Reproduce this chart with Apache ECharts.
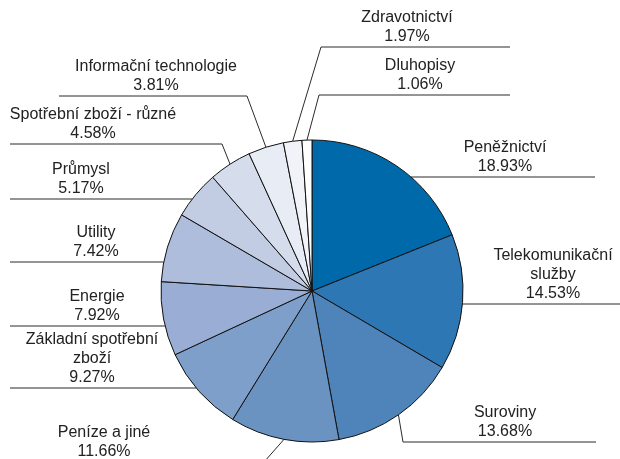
<!DOCTYPE html>
<html>
<head>
<meta charset="utf-8">
<script src="https://cdn.jsdelivr.net/npm/echarts@6/dist/echarts.min.js"></script>
<style>
  html, body { margin: 0; padding: 0; background: #fff; }
  #chart { width: 620px; height: 459px; }
</style>
</head>
<body>
<div id="chart"></div>
<script>
// sektory portfolia (po směru hodinových ručiček od 12 h)
var sectors = ['Peněžnictví', 'Telekomunikační\nslužby', 'Suroviny', 'Peníze a jiné',
    'Základní spotřební\nzboží', 'Energie', 'Utility', 'Průmysl',
    'Spotřební zboží - různé', 'Informační technologie', 'Zdravotnictví', 'Dluhopisy'];
var shares = [18.93, 14.53, 13.68, 11.66, 9.27, 7.92, 7.42, 5.17, 4.58, 3.81, 1.97, 1.06];

var colors = ['#0069aa', '#2d78b4', '#4e84ba', '#6a93c2', '#7f9fcb', '#9aadd4',
    '#aebddc', '#c2cde4', '#d5dcec', '#e8ecf5', '#f1f3f9', '#ffffff'];

// umístění popisků: střed textu (tx), výška podtržení (ly), zlom čáry (ex), konec čáry (end)
var labelSpots = [
    {tx: 505, ly: 177, end: 595},
    {tx: 553, ly: 304, end: 620},
    {tx: 505, ly: 442, ex: 403, end: 596},
    {tx: 104, ly: 462, ex: 264, end: 10},
    {tx: 92, ly: 388, end: 10},
    {tx: 97, ly: 326, end: 10},
    {tx: 96, ly: 262, end: 10},
    {tx: 81, ly: 199, end: 10},
    {tx: 93, ly: 144, ex: 222, end: 10},
    {tx: 156, ly: 96, ex: 247, end: 59},
    {tx: 407, ly: 47, ex: 321, end: 510},
    {tx: 420, ly: 95, ex: 319, end: 510}
];

var cx = 312, cy = 291, r = 151;

var myChart = echarts.init(document.getElementById('chart'));

var option = {
    animation: false,
    color: colors,
    series: [{
        type: 'pie',
        center: [cx, cy],
        radius: r,
        startAngle: 90,
        clockwise: true,
        avoidLabelOverlap: false,
        data: sectors.map(function (s, i) { return {name: s, value: shares[i]}; }),
        itemStyle: {borderColor: '#111', borderWidth: 1},
        emphasis: {disabled: true},
        label: {
            show: true,
            position: 'outside',
            formatter: function (p) { return p.name + '\n' + p.value.toFixed(2) + '%'; },
            fontFamily: 'Liberation Sans',
            fontSize: 16,
            lineHeight: 19,
            color: '#222',
            align: 'center'
        },
        labelLine: {
            show: true,
            length: 10,
            length2: 10,
            smooth: false,
            lineStyle: {color: '#2a2a2a', width: 1}
        },
        labelLayout: function (params) {
            var s = labelSpots[params.dataIndex];
            var pts;
            if (s.ex !== undefined) {
                var p0 = params.labelLinePoints ? params.labelLinePoints[0] : [s.ex, s.ly];
                pts = [p0, [s.ex, s.ly], [s.end, s.ly]];
            } else {
                var dy = s.ly - cy;
                var half = Math.sqrt(r * r - dy * dy);
                var sx = s.end > cx ? cx + half : cx - half;
                pts = [[sx, s.ly], [sx, s.ly], [s.end, s.ly]];
            }
            return {
                x: s.tx,
                y: s.ly - 1,
                align: 'center',
                verticalAlign: 'bottom',
                labelLinePoints: pts
            };
        }
    }]
};

myChart.setOption(option);
</script>
</body>
</html>
